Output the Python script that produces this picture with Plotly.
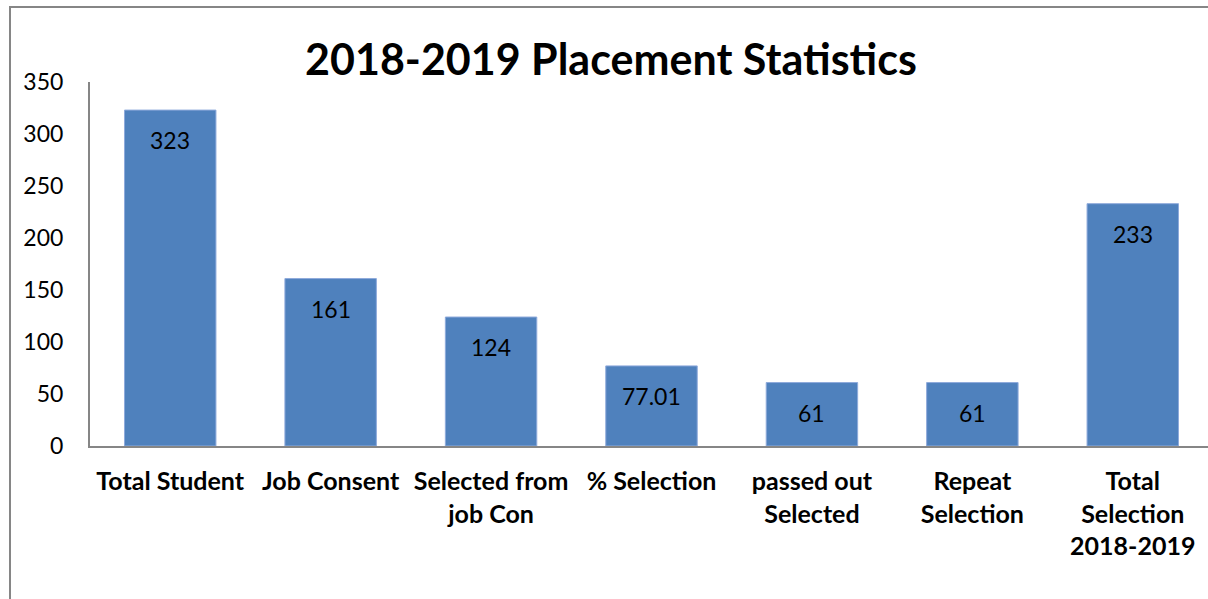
import plotly.graph_objects as go

categories = ["Total Student", "Job Consent", "Selected from<br>job Con", "% Selection",
              "passed out<br>Selected", "Repeat<br>Selection", "Total<br>Selection<br>2018-2019"]
values = [323, 161, 124, 77.01, 61, 61, 233]
value_labels = ["323", "161", "124", "77.01", "61", "61", "233"]
y_ticks = [0, 50, 100, 150, 200, 250, 300, 350]

W, H = 1208, 599
ML, MR, MT, MB = 90, 0, 82, 153
pw = W - ML - MR
ph = H - MT - MB

fig = go.Figure()
fig.add_trace(go.Bar(
    x=list(range(len(categories))), y=values,
    marker=dict(color="#4F81BD", line=dict(color="#8EAADB", width=1)),
    width=0.57, hoverinfo="skip"))

for i, (v, t) in enumerate(zip(values, value_labels)):
    fig.add_annotation(x=i, y=v, text=t, showarrow=False, yshift=-30, yanchor="middle",
                       font=dict(family="Lato", size=23, color="#000000"))

fontfam = "Lato"
fig.update_layout(
    width=W, height=H,
    margin=dict(l=ML, r=MR, t=MT, b=MB),
    paper_bgcolor="white", plot_bgcolor="white",
    showlegend=False,
    title=dict(text="<b>2018-2019 Placement Statistics</b>", x=611 / W, xanchor="center",
               y=1 - 60 / H, yanchor="middle", yref="container",
               font=dict(family=fontfam, size=43, color="#000000")),
    xaxis=dict(tickmode="array", tickvals=list(range(len(categories))),
               ticktext=["<b>" + c.replace("<br>", "</b><br><b>") + "</b>" for c in categories],
               range=[-0.5, 6.5 - 5 / 160.5], showline=True, linecolor="#868686", linewidth=2,
               showgrid=False, zeroline=False, ticks="", ticklabelstandoff=12,
               tickfont=dict(family=fontfam, size=25, color="#000000"), fixedrange=True),
    yaxis=dict(range=[0, 350], tickvals=y_ticks, showline=True, linecolor="#868686", linewidth=2,
               showgrid=False, zeroline=False, ticks="", ticklabelstandoff=20,
               tickfont=dict(family=fontfam, size=23, color="#000000"), fixedrange=True),
    shapes=[dict(type="rect", xref="paper", yref="paper",
                 x0=(10 - ML) / pw, x1=1.2, y0=-1, y1=1 + (MT - 7) / ph,
                 line=dict(color="#868686", width=2), fillcolor="rgba(0,0,0,0)", layer="above")],
)

fig.write_html("out.html", config={"displayModeBar": False},
               post_script="document.body.style.margin='0';document.body.style.overflow='hidden';")
